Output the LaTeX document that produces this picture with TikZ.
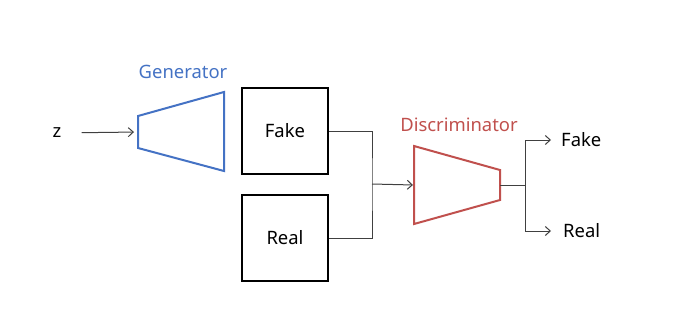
\documentclass[tikz,border=0pt]{standalone}
\usepackage{fontspec}
\setmainfont{Noto Sans}
\usetikzlibrary{arrows.meta}
\definecolor{genblue}{RGB}{68,114,196}
\definecolor{disred}{RGB}{192,80,77}

\begin{document}
\begin{tikzpicture}[x=1bp, y=-1bp,
    txt/.style={font=\fontsize{18.5}{22}\selectfont, inner sep=0pt},
    box/.style={draw, line width=2bp, minimum size=86bp, font=\fontsize{18.5}{22}\selectfont},
    net/.style={line width=2bp, line join=miter},
    wire/.style={line width=1bp, black!75},
    arr/.style={wire, -{Straight Barb[length=5bp, width=9bp]}},
  ]
    \useasboundingbox (0,0) rectangle (679,315);

    \node[txt] (z) at (57,133) {z};

    % Generator
    \draw[net, genblue] (138,116) -- (224,92) -- (224,171) -- (138,148) -- cycle;
    \coordinate (genin) at (138,132);
    \node[txt, text=genblue] (genlbl) at (183,72) {Generator};

    \node[box] (fake) at (285,131) {Fake};
    \node[box] (real) at (285,238) {Real};

    % Discriminator
    \draw[net, disred] (414,146) -- (500,170) -- (500,200) -- (414,224) -- cycle;
    \coordinate (disin) at (414,185);
    \coordinate (disout) at (500,185);
    \node[txt, text=disred] (dislbl) at (459,125) {Discriminator};

    \node[txt, anchor=west] (outfake) at (561,140) {Fake};
    \node[txt, anchor=west] (outreal) at (563,231) {Real};

    % Wires
    \coordinate (join) at (372,184);
    \coordinate (split) at (525,185);
    \draw[arr, shorten <=20bp, shorten >=4bp] (z) -- (genin);
    \draw[wire] (fake.east) -| (join) |- (real.east);
    \draw[arr, shorten >=1bp] (join) -- (disin);
    \draw[wire] (disout) -- (split);
    \draw[arr, shorten >=10bp] (split) |- (outfake.west);
    \draw[arr, shorten >=12bp] (split) |- (outreal.west);
\end{tikzpicture}
\end{document}
